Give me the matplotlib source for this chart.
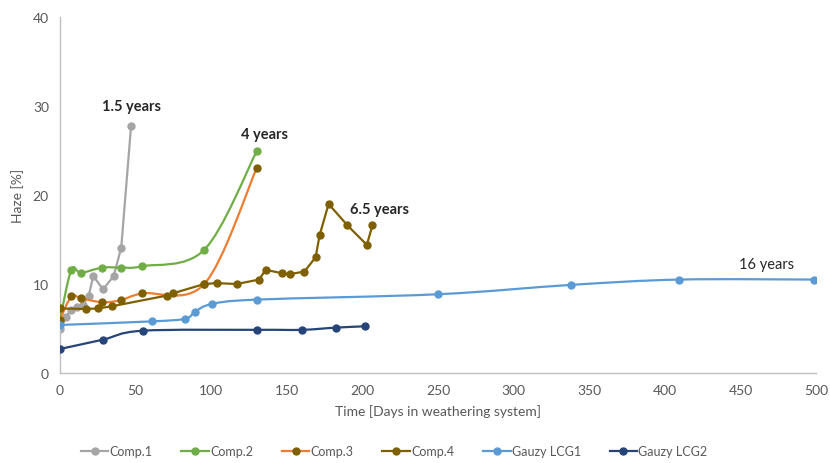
import numpy as np
import matplotlib
matplotlib.use('Agg')
import matplotlib.pyplot as plt
from matplotlib.path import Path
from matplotlib.patches import PathPatch
from matplotlib.lines import Line2D

plt.rcParams['font.family'] = ['Lato', 'DejaVu Sans']

# data (days, haze %)
comp1_days = [0, 4, 7, 11, 15, 19, 22, 28.5, 35.5, 40.5, 47]
comp1_haze = [4.9, 6.3, 7.1, 7.4, 7.6, 8.7, 10.9, 9.4, 10.9, 14.1, 27.8]

comp2_days = [0, 7.5, 13.8, 28, 40.5, 54.5, 95.4, 130]
comp2_haze = [6.0, 11.6, 11.25, 11.85, 11.85, 12.0, 13.85, 24.9]

comp3_days = [0, 7.5, 13.8, 28, 40.5, 54.5, 95.4, 130]
comp3_haze = [6.0, 8.6, 8.4, 7.95, 8.2, 8.95, 10.0, 23.0]

comp4_days = [0, 17, 24.8, 34.4, 70.6, 74.6, 95.4, 103.5, 117, 131.6, 136, 147,
              151.8, 161.6, 169, 171.7, 177.6, 190, 202.9, 206.6]
comp4_haze = [7.25, 7.2, 7.25, 7.5, 8.7, 8.95, 10.0, 10.1, 10.0, 10.5, 11.6, 11.2,
              11.1, 11.4, 13.0, 15.5, 19.0, 16.6, 14.4, 16.6]

lcg1_days = [0, 60.7, 82.9, 89.3, 100.4, 130.5, 250, 337.7, 409.4, 498.9]
lcg1_haze = [5.4, 5.8, 6.1, 6.9, 7.75, 8.25, 8.85, 9.9, 10.5, 10.5]

lcg2_days = [0, 28.5, 54.6, 130.5, 160, 182.5, 202]
lcg2_haze = [2.7, 3.75, 4.75, 4.85, 4.85, 5.1, 5.25]

labels = ['1.5 years', '4 years', '6.5 years', '16 years']
label_x = [47.4, 135, 211, 467]
label_y = [30.0, 26.9, 18.4, 12.2]

c_gray = '#A5A5A5'
c_green = '#70AD47'
c_orange = '#ED7D31'
c_brown = '#7F6000'
c_lblue = '#5B9BD5'
c_dblue = '#264478'


def smooth_path(xs, ys):
    # excel-like smoothed line: cubic bezier through the points
    p = np.column_stack([xs, ys]).astype(float)
    ext = np.vstack([p[0], p, p[-1]])
    verts = [p[0]]
    codes = [Path.MOVETO]
    for i in range(len(p) - 1):
        a, b, c, d = ext[i], ext[i + 1], ext[i + 2], ext[i + 3]
        verts += [b + (c - a) / 6, c - (d - b) / 6, c]
        codes += [Path.CURVE4] * 3
    return Path(verts, codes)


fig = plt.figure(figsize=(8.3, 4.64), dpi=100)
ax = fig.add_axes([0.0723, 0.194, 0.911, 0.767])

series = [
    (comp1_days, comp1_haze, c_gray, c_gray, False, 'Comp.1'),
    (comp2_days, comp2_haze, c_green, c_green, True, 'Comp.2'),
    (comp3_days, comp3_haze, c_orange, c_brown, True, 'Comp.3'),
    (comp4_days, comp4_haze, c_brown, c_brown, False, 'Comp.4'),
    (lcg1_days, lcg1_haze, c_lblue, c_lblue, True, 'Gauzy LCG1'),
    (lcg2_days, lcg2_haze, c_dblue, c_dblue, True, 'Gauzy LCG2'),
]

handles = []
for z, (xs, ys, lc, mc, smooth, name) in enumerate(series):
    if smooth:
        ax.add_patch(PathPatch(smooth_path(xs, ys), facecolor='none', edgecolor=lc,
                               lw=1.6, zorder=2 + z, capstyle='round'))
    else:
        ax.plot(xs, ys, color=lc, lw=1.6, zorder=2 + z)
    ax.plot(xs, ys, ls='none', marker='o', ms=5, color=mc, zorder=2.5 + z)
    handles.append(Line2D([], [], color=lc, lw=1.6, marker='o', ms=5,
                          markerfacecolor=mc, markeredgecolor=mc, label=name))

for t, x, y in zip(labels, label_x, label_y):
    ax.text(x, y, t, ha='center', va='center', fontsize=10.5, color='#262626',
            fontweight='normal' if t == '16 years' else 'bold')

ax.set_xlim(0, 500)
ax.set_ylim(0, 40)
ax.set_xticks(np.arange(0, 501, 50))
ax.set_yticks(np.arange(0, 41, 10))
for s in ['top', 'right']:
    ax.spines[s].set_visible(False)
for s in ['left', 'bottom']:
    ax.spines[s].set_color('#BFBFBF')
    ax.spines[s].set_linewidth(1)
ax.tick_params(length=0, labelsize=10, colors='#595959', pad=8)
ax.set_xlabel('Time [Days in weathering system]', fontsize=10, color='#595959', labelpad=6)
ax.set_ylabel('Haze [%]', fontsize=10, color='#595959', labelpad=6)

fig.legend(handles=handles, loc='center', bbox_to_anchor=(0.475, 0.025), ncol=6,
           frameon=False, fontsize=9, handlelength=2.2, handletextpad=0.1,
           columnspacing=2.3, labelcolor='#595959')

fig.savefig('out.png', dpi=100)
